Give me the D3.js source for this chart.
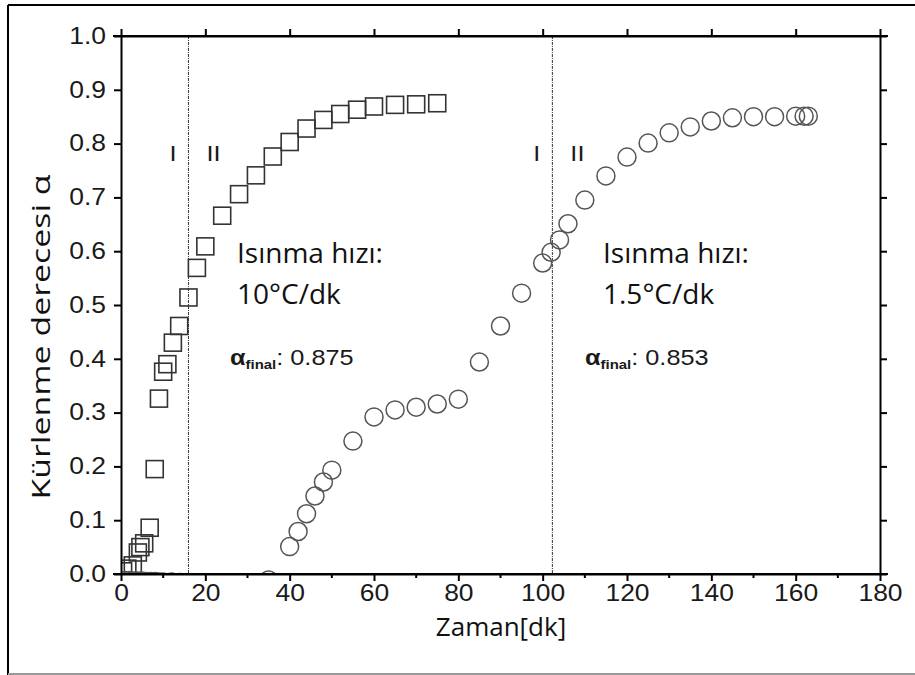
<!DOCTYPE html>
<html>
<head>
<meta charset="utf-8">
<script src="https://cdn.jsdelivr.net/npm/d3@7"></script>
<style>
body { margin: 0; background: #fff; }
svg { display: block; }
.tick text { font-family: "Liberation Sans", Arial, sans-serif; font-size: 23px; fill: #1a1a1a; }
.note { font-family: "Open Sans", "Noto Sans", sans-serif; fill: #111; }
</style>
</head>
<body>
<div id="chart"></div>
<script>
// 10 °C/dk series (squares)
let sqX = [0.5, 1.5, 2.8, 4.0, 4.6, 5.5, 6.8, 8.0, 9.0, 10.0, 11.0, 12.3, 13.8, 16.0, 18.0, 20.0, 24, 28, 32, 36, 40, 44, 48, 52, 56, 60, 65, 70, 75]
let sqY = [0.005, 0.01, 0.016, 0.040, 0.050, 0.057, 0.086, 0.195, 0.326, 0.376, 0.390, 0.430, 0.461, 0.514, 0.569, 0.609, 0.666, 0.706, 0.741, 0.776, 0.803, 0.828, 0.844, 0.855, 0.863, 0.869, 0.872, 0.873, 0.875]
// 1.5 °C/dk series (circles)
let ciX = [1, 2, 3, 4, 5, 6, 7, 8, 9, 10, 12, 14, 35, 40, 42, 44, 46, 48, 50, 55, 60, 65, 70, 75, 80, 85, 90, 95, 100, 102, 104, 106, 110, 115, 120, 125, 130, 135, 140, 145, 150, 155, 160, 162, 163]
let ciY = [-0.012, -0.012, -0.013, -0.013, -0.013, -0.014, -0.014, -0.014, -0.015, -0.015, -0.015, -0.016, -0.011, 0.051, 0.079, 0.112, 0.145, 0.171, 0.193, 0.247, 0.292, 0.305, 0.310, 0.316, 0.325, 0.394, 0.461, 0.522, 0.578, 0.598, 0.621, 0.651, 0.695, 0.740, 0.775, 0.801, 0.820, 0.831, 0.842, 0.848, 0.850, 0.850, 0.851, 0.851, 0.851]
let stageLines = [16, 102.3]
let xTicks = [0, 20, 40, 60, 80, 100, 120, 140, 160, 180]
let xMinor = [10, 30, 50, 70, 90, 110, 130, 150, 170]
let yTicks = [0, 0.1, 0.2, 0.3, 0.4, 0.5, 0.6, 0.7, 0.8, 0.9, 1.0]

let size = { width: 915, height: 675, left: 121, right: 880, top: 36, bottom: 574 }
let stretch = 1.15 // the source picture is widened a little

let svg = d3.select('#chart')
  .append('svg')
  .attr('width', size.width)
  .attr('height', size.height)

// outer frame
svg.append('line').attr('x1', 8).attr('x2', 915).attr('y1', 5).attr('y2', 5).attr('stroke', '#000').attr('stroke-width', 2)
svg.append('line').attr('x1', 8).attr('x2', 8).attr('y1', 5).attr('y2', 675).attr('stroke', '#000').attr('stroke-width', 2)
svg.append('line').attr('x1', 8).attr('x2', 915).attr('y1', 674).attr('y2', 674).attr('stroke', '#999').attr('stroke-width', 2)

let x = d3.scaleLinear().domain([0, 180]).range([size.left, size.right])
let y = d3.scaleLinear().domain([0, 1]).range([size.bottom, size.top])

svg.append('defs').append('clipPath').attr('id', 'plot')
  .append('rect')
  .attr('x', size.left).attr('y', size.top)
  .attr('width', size.right - size.left).attr('height', size.bottom - size.top)

// dotted stage separators
svg.append('g').selectAll('line')
  .data(stageLines)
  .join('line')
  .attr('x1', d => x(d)).attr('x2', d => x(d))
  .attr('y1', y(1)).attr('y2', y(0))
  .attr('stroke', '#333')
  .attr('stroke-width', 1)
  .attr('stroke-dasharray', '3,1,1,1')

// markers
let marks = svg.append('g').attr('clip-path', 'url(#plot)')
marks.selectAll('rect')
  .data(sqX.map((d, i) => [d, sqY[i]]))
  .join('rect')
  .attr('x', d => x(d[0]) - 8.5)
  .attr('y', d => y(d[1]) - 8.5)
  .attr('width', 17)
  .attr('height', 17)
  .attr('fill', 'none')
  .attr('stroke', '#333')
  .attr('stroke-width', 1.6)
marks.selectAll('circle')
  .data(ciX.map((d, i) => [d, ciY[i]]))
  .join('circle')
  .attr('cx', d => x(d[0]))
  .attr('cy', d => y(d[1]))
  .attr('r', 9)
  .attr('fill', 'none')
  .attr('stroke', '#555')
  .attr('stroke-width', 1.5)

// axes
let fmt = d3.format('.1f')
let axB = svg.append('g').attr('transform', `translate(0,${size.bottom})`)
  .call(d3.axisBottom(x).tickValues(xTicks).tickSize(7).tickSizeOuter(0))
axB.append('g').selectAll('line').data(xMinor).join('line')
  .attr('x1', d => x(d)).attr('x2', d => x(d)).attr('y1', 0).attr('y2', 4)
  .attr('stroke', '#000').attr('stroke-width', 2)
let axT = svg.append('g').attr('transform', `translate(0,${size.top})`)
  .call(d3.axisTop(x).tickValues(xTicks).tickSize(7).tickFormat('').tickSizeOuter(0))
let axL = svg.append('g').attr('transform', `translate(${size.left},0)`)
  .call(d3.axisLeft(y).tickValues(yTicks).tickFormat(fmt).tickSize(7).tickPadding(6).tickSizeOuter(0))
let axR = svg.append('g').attr('transform', `translate(${size.right},0)`)
  .call(d3.axisRight(y).tickValues(yTicks).tickFormat('').tickSize(7).tickSizeOuter(0))
svg.selectAll('.domain').attr('stroke', '#000').attr('stroke-width', 2)
svg.selectAll('.tick line').attr('stroke', '#000').attr('stroke-width', 2)
axB.selectAll('.tick text').attr('y', 0).attr('dy', 0).attr('transform', `translate(0,27) scale(${stretch},1)`)
axL.selectAll('.tick text').attr('transform', `scale(${stretch},1)`)
// extend top/bottom lines slightly like the original
axB.append('line').attr('x1', size.left - 8).attr('x2', size.right + 8).attr('stroke', '#000').attr('stroke-width', 2)
axT.append('line').attr('x1', size.left - 8).attr('x2', size.right + 8).attr('stroke', '#000').attr('stroke-width', 2)

// axis titles
svg.append('text')
  .attr('class', 'note')
  .attr('transform', `translate(50,337) rotate(-90)`)
  .attr('text-anchor', 'middle')
  .attr('font-size', 26)
  .attr('textLength', 325)
  .attr('lengthAdjust', 'spacingAndGlyphs')
  .text('Kürlenme derecesi α')
svg.append('text')
  .attr('class', 'note')
  .attr('x', 501)
  .attr('y', 636)
  .attr('text-anchor', 'middle')
  .attr('font-size', 26)
  .text('Zaman[dk]')

// stage labels
let stageLbl = [['I', 16, -1], ['II', 16, 1], ['I', 102.3, -1], ['II', 102.3, 1]]
svg.append('g').selectAll('text')
  .data(stageLbl)
  .join('text')
  .attr('transform', d => `translate(${x(d[1]) + (d[2] < 0 ? -12 : 18)},161) scale(${stretch},1)`)
  .attr('text-anchor', d => d[2] < 0 ? 'end' : 'start')
  .attr('font-family', '"Liberation Sans", Arial, sans-serif')
  .attr('font-size', 22)
  .attr('fill', '#1a1a1a')
  .text(d => d[0])

// annotations
let notes = [
  { x: 237, ax: 230, rate: '10°C/dk', fin: '0.875' },
  { x: 603, ax: 585, rate: '1.5°C/dk', fin: '0.853' }
]
notes.forEach(n => {
  svg.append('text').attr('class', 'note').attr('x', n.x).attr('y', 263).attr('font-size', 28).text('Isınma hızı:')
  svg.append('text').attr('class', 'note').attr('x', n.x).attr('y', 304).attr('font-size', 28).text(n.rate)
  let t = svg.append('text').attr('transform', `translate(${n.ax},365) scale(${stretch},1)`)
    .attr('font-family', '"Liberation Sans", Arial, sans-serif').attr('font-size', 22).attr('fill', '#1a1a1a')
  t.append('tspan').attr('font-weight', 'bold').text('α')
  t.append('tspan').attr('font-weight', 'bold').attr('font-size', 13).attr('dy', 4).text('final')
  t.append('tspan').attr('dy', -4).text(': ' + n.fin)
})
</script>
</body>
</html>
